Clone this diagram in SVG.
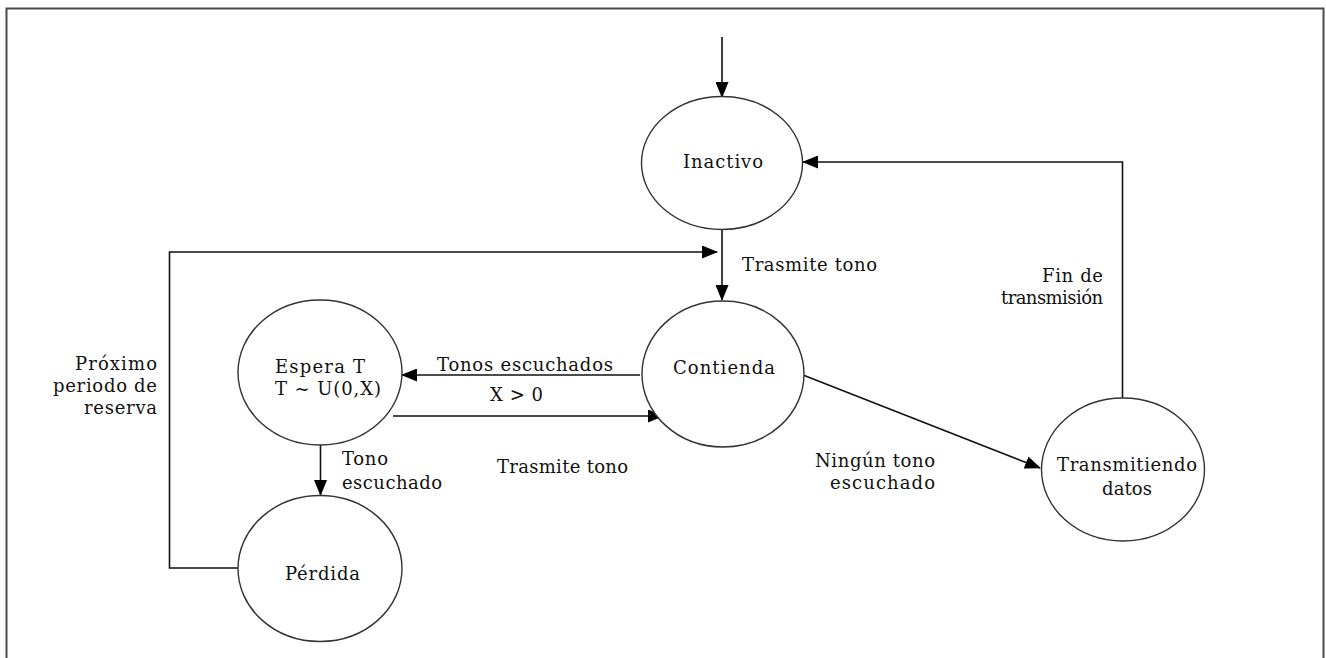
<svg xmlns="http://www.w3.org/2000/svg" width="1326" height="658" viewBox="0 0 1326 658">
<defs>
<marker id="ah" markerWidth="16" markerHeight="13" refX="15" refY="6.5" orient="auto" markerUnits="userSpaceOnUse">
<path d="M0,0 L16,6.5 L0,13 Z" fill="#000"/>
</marker>
<style>
.st{fill:#fff;stroke:#333;stroke-width:1.4}
.t{font-family:'DejaVu Serif','Liberation Serif',serif;font-size:18px;fill:#111}
.c{stroke:#111;stroke-width:1.6;fill:none;marker-end:url(#ah)}
.fr{stroke:#4a4a4a;stroke-width:2;fill:none}
</style>
</defs>
<rect width="1326" height="658" fill="#fff"/>
<g id="frame">
<path class="fr" d="M6.5,658 V8.5 H1323.5 V658"/>
</g>
<g id="connectors">
<path class="c" d="M722,37 V97"/>
<path class="c" d="M722,230 V300"/>
<path class="c" d="M238,568 H169.5 V252 H717"/>
<path class="c" d="M1122.5,398 V162 H803"/>
<path class="c" d="M640,375 H402"/>
<path class="c" d="M393,416 H663"/>
<path class="c" d="M803,375 L1040,468"/>
<path class="c" d="M320.5,445 V495"/>
</g>
<g id="labels">
<text class="t" x="742" y="271" textLength="135" lengthAdjust="spacing">Trasmite tono</text>
<text class="t" x="1042" y="282" textLength="61" lengthAdjust="spacing">Fin de</text>
<text class="t" x="1001" y="304" textLength="102" lengthAdjust="spacing">transmisión</text>
<text class="t" x="437" y="371" textLength="176" lengthAdjust="spacing">Tonos escuchados</text>
<text class="t" x="490" y="401" textLength="53" lengthAdjust="spacing">X &gt; 0</text>
<text class="t" x="497" y="473" textLength="131" lengthAdjust="spacing">Trasmite tono</text>
<text class="t" x="815" y="467" textLength="120" lengthAdjust="spacing">Ningún tono</text>
<text class="t" x="830" y="489" textLength="105" lengthAdjust="spacing">escuchado</text>
<text class="t" x="342" y="465" textLength="46" lengthAdjust="spacing">Tono</text>
<text class="t" x="342" y="489" textLength="100" lengthAdjust="spacing">escuchado</text>
<text class="t" x="75" y="370" textLength="82" lengthAdjust="spacing">Próximo</text>
<text class="t" x="53" y="392" textLength="104" lengthAdjust="spacing">periodo de</text>
<text class="t" x="84" y="414" textLength="73" lengthAdjust="spacing">reserva</text>
</g>
<g id="inactivo">
<ellipse class="st" cx="722" cy="163" rx="80.5" ry="66.5"/>
<text class="t" x="683" y="168" textLength="80" lengthAdjust="spacing">Inactivo</text>
</g>
<g id="contienda">
<ellipse class="st" cx="723" cy="374" rx="81" ry="73"/>
<text class="t" x="673" y="374" textLength="102" lengthAdjust="spacing">Contienda</text>
</g>
<g id="espera">
<ellipse class="st" cx="320" cy="372.5" rx="82" ry="72.5"/>
<text class="t" x="275" y="373" textLength="90" lengthAdjust="spacing">Espera T</text>
<text class="t" x="275" y="395" textLength="106" lengthAdjust="spacing">T ~ U(0,X)</text>
</g>
<g id="perdida">
<ellipse class="st" cx="320" cy="568.5" rx="82" ry="73"/>
<text class="t" x="285" y="580" textLength="75" lengthAdjust="spacing">Pérdida</text>
</g>
<g id="transmitiendo">
<ellipse class="st" cx="1123" cy="469.5" rx="81.5" ry="71.5"/>
<text class="t" x="1057" y="471" textLength="140" lengthAdjust="spacing">Transmitiendo</text>
<text class="t" x="1102" y="495" textLength="50" lengthAdjust="spacing">datos</text>
</g>
</svg>
